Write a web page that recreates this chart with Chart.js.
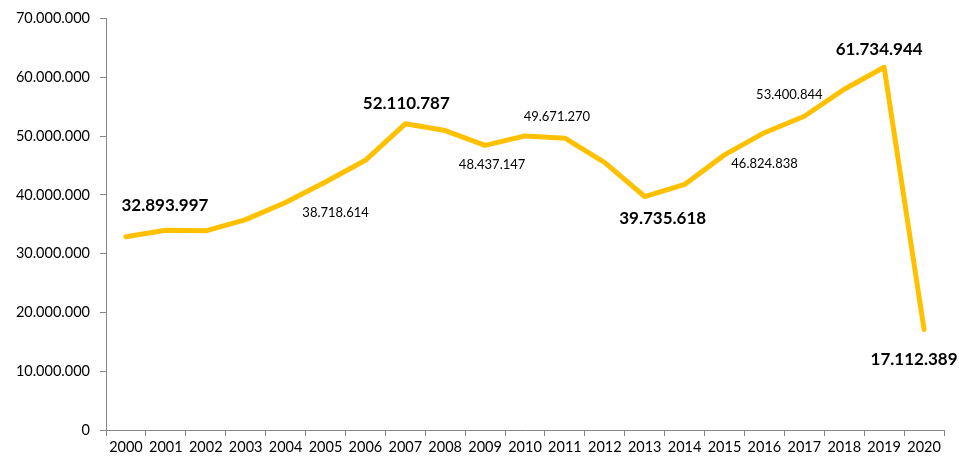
<!DOCTYPE html>
<html>
<head>
<meta charset="utf-8">
<script src="https://cdn.jsdelivr.net/npm/chart.js@4/dist/chart.umd.min.js"></script>
<style>
  html, body { margin: 0; padding: 0; background: #fff; }
  #wrap { width: 959px; height: 460px; }
</style>
</head>
<body>
<div id="wrap"><canvas id="chart" width="959" height="460"></canvas></div>
<script>
const years = ['2000','2001','2002','2003','2004','2005','2006','2007','2008','2009','2010',
  '2011','2012','2013','2014','2015','2016','2017','2018','2019','2020'];
const passengers = [32893997, 34000000, 33900000, 35800000, 38718614, 42200000, 45900000,
  52110787, 50960000, 48437147, 50050000, 49671270, 45500000, 39735618, 41800000,
  46824838, 50600000, 53400844, 58000000, 61734944, 17112389];
const yTicks = [0, 10000000, 20000000, 30000000, 40000000, 50000000, 60000000, 70000000];
// which points get a value label, and whether it's bold
const labelled = [0, 4, 7, 9, 11, 13, 15, 17, 19, 20];
const boldLabels = [0, 7, 13, 19, 20];

function fmt(v) {
  return String(v).replace(/\B(?=(\d{3})+(?!\d))/g, '.');
}

// label offsets from the point, in px (x, y)
const labelOffsets = {
  0: [39, -31], 4: [50, 10], 7: [1, -20], 9: [7, 19], 11: [-8, -21],
  13: [18, 22], 15: [40, 9], 17: [-15, -21], 19: [-5, -18], 20: [-10, 30]
};

const valueLabels = {
  id: 'valueLabels',
  afterDatasetsDraw(chart) {
    const ctx = chart.ctx;
    const meta = chart.getDatasetMeta(0);
    ctx.save();
    ctx.textAlign = 'center';
    ctx.textBaseline = 'middle';
    ctx.fillStyle = '#000';
    labelled.forEach(function(i) {
      const pt = meta.data[i];
      const off = labelOffsets[i];
      const bold = boldLabels.indexOf(i) >= 0;
      ctx.font = bold ? 'bold 17px Lato' : '13px Lato';
      ctx.fillText(fmt(passengers[i]), pt.x + off[0], pt.y + off[1]);
    });
    ctx.restore();
  }
};

const ctx = document.getElementById('chart').getContext('2d');
const chart = new Chart(ctx, {
  type: 'line',
  data: {
    labels: years,
    datasets: [{
      data: passengers,
      borderColor: '#FFC000',
      borderWidth: 5,
      borderJoinStyle: 'round',
      borderCapStyle: 'round',
      pointRadius: 0,
      tension: 0,
      fill: false
    }]
  },
  options: {
    responsive: false,
    animation: false,
    layout: { padding: { top: 17, right: 15, left: 0, bottom: 0 } },
    plugins: { legend: { display: false }, tooltip: { enabled: false } },
    scales: {
      x: {
        offset: true,
        grid: { offset: true, drawOnChartArea: false, tickLength: 6, color: '#868686' },
        border: { color: '#868686' },
        ticks: { color: '#000', font: { family: 'Lato', size: 14.5 }, maxRotation: 0, autoSkip: false, padding: 3 },
        afterFit: function(s) { s.height = 30; }
      },
      y: {
        min: 0,
        max: 70000000,
        afterBuildTicks: function(s) { s.ticks = yTicks.map(function(v) { return { value: v }; }); },
        grid: { drawOnChartArea: false, tickLength: 6, color: '#868686' },
        border: { color: '#868686' },
        ticks: { color: '#000', font: { family: 'Lato', size: 14.5 }, padding: 10,
          callback: function(v) { return fmt(v); } },
        afterFit: function(s) { s.width = 106; }
      }
    }
  },
  plugins: [valueLabels]
});
</script>
</body>
</html>
